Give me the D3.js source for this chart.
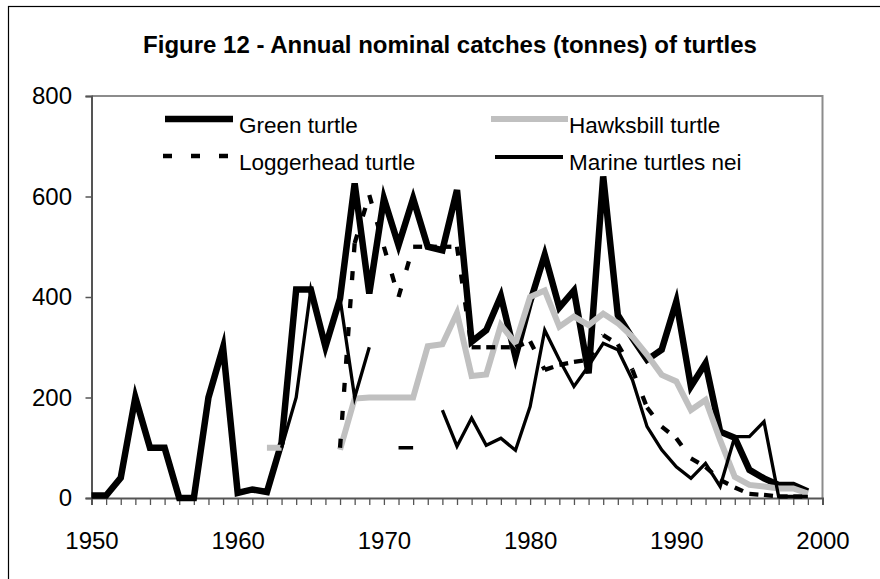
<!DOCTYPE html>
<html>
<head>
<meta charset="utf-8">
<script src="https://cdn.jsdelivr.net/npm/d3@7/dist/d3.min.js"></script>
<style>
  html, body { margin: 0; padding: 0; background: #fff; }
  svg { display: block; }
  text { font-family: "Liberation Sans", Arial, Helvetica, sans-serif; fill: #000; }
</style>
</head>
<body>
<svg id="chart" width="880" height="579"></svg>
<script>
// Annual nominal catches (tonnes), one value per year 1950-1999; null = no report
const years = d3.range(1950, 2000);

const greenTurtle = [
  5, 5, 40, 200, 100, 100, 0, 0, 200, 300,
  10, 17, 12, 110, 415, 415, 301, 397, 626, 407,
  596, 503, 596, 500, 493, 613, 311, 334, 402, 281,
  390, 484, 379, 413, 248, 640, 364, 318, 275, 295,
  391, 222, 268, 132, 120, 56, 39, 26, 26, 13
];

const hawksbillTurtle = [
  null, null, null, null, null, null, null, null, null, null,
  null, null, 100, 100, null, null, null, 96, 198, 200,
  200, 200, 200, 302, 306, 368, 243, 246, 344, 308,
  400, 413, 341, 361, 344, 367, 348, 321, 285, 245,
  232, 175, 195, 115, 42, 26, 23, 19, 19, 9
];

const loggerheadTurtle = [
  null, null, null, null, null, null, null, null, null, null,
  null, null, null, null, null, null, null, 100, 507, 603,
  500, 400, 500, 500, 500, 500, 300, 300, 300, 300,
  312, 255, 265, 271, 275, 324, 306, 255, 180, 142,
  119, 79, 62, 36, 21, 8, 6, 3, 3, 3
];

const marineTurtlesNei = [
  null, null, null, null, null, null, null, null, null, null,
  null, null, null, 100, 200, 415, 301, 397, 200, 300,
  null, 100, 100, null, 175, 103, 159, 105, 119, 95,
  182, 334, 275, 222, 263, 308, 295, 235, 142, 96,
  62, 39, 69, 23, 122, 122, 152, 3, 3, 3
];

const seriesNames = ["Green turtle", "Hawksbill turtle", "Loggerhead turtle", "Marine turtles nei"];
const yTicks = [0, 200, 400, 600, 800];
const xLabelYears = [1950, 1960, 1970, 1980, 1990, 2000];

const titleText = "Figure 12 - Annual nominal catches (tonnes) of turtles";

// line styles per series
const styles = {
  "Green turtle":       { stroke: "#000", width: 6.5, dash: null,   perSegment: false },
  "Hawksbill turtle":   { stroke: "#c0c0c0", width: 6, dash: null,  perSegment: false },
  "Loggerhead turtle":  { stroke: "#000", width: 4.3, dash: "9,19", perSegment: true },
  "Marine turtles nei": { stroke: "#000", width: 3.3, dash: null,   perSegment: false }
};

const valuesByName = {
  "Green turtle": greenTurtle,
  "Hawksbill turtle": hawksbillTurtle,
  "Loggerhead turtle": loggerheadTurtle,
  "Marine turtles nei": marineTurtlesNei
};

const svg = d3.select("#chart");

// outer figure frame (runs off the right and bottom edges)
svg.append("rect")
  .attr("x", 8.5).attr("y", 6.5)
  .attr("width", 950).attr("height", 650)
  .attr("fill", "none").attr("stroke", "#000").attr("stroke-width", 1.2);

// title
svg.append("text")
  .attr("x", 450).attr("y", 53)
  .attr("text-anchor", "middle")
  .style("font-size", "24px").style("font-weight", "bold")
  .text(titleText);

const x = d3.scaleLinear().domain([1950, 2000]).range([91.5, 822.5]);
const y = d3.scaleLinear().domain([0, 800]).range([498, 96]);

// plot area border (top and right)
svg.append("path")
  .attr("d", `M${x(1950)},${y(800)}H${x(2000)}V${y(0)}`)
  .attr("fill", "none").attr("stroke", "#8c8c8c").attr("stroke-width", 2);

// y axis
const yAxis = svg.append("g")
  .attr("transform", `translate(${x(1950)},0)`)
  .call(d3.axisLeft(y).tickValues(yTicks).tickSize(6).tickPadding(13.5).tickFormat(d3.format("d")));
yAxis.select(".domain").attr("stroke", "#555").attr("stroke-width", 2);
yAxis.selectAll(".tick line").attr("stroke", "#555").attr("stroke-width", 1.5);
yAxis.selectAll("text").style("font-size", "24px").attr("font-family", null);

// x axis: a tick each year, labels each decade
const xAxis = svg.append("g")
  .attr("transform", `translate(0,${y(0)})`)
  .call(d3.axisBottom(x)
    .tickValues(d3.range(1950, 2001))
    .tickSize(7).tickPadding(27)
    .tickFormat(d => xLabelYears.includes(d) ? String(d) : ""));
xAxis.select(".domain").attr("stroke", "#555").attr("stroke-width", 2);
xAxis.selectAll(".tick line").attr("stroke", "#555").attr("stroke-width", 1.3);
xAxis.selectAll("text").style("font-size", "24px").attr("font-family", null);

// series lines
const line = d3.line()
  .defined(d => d.v !== null)
  .x(d => x(d.year))
  .y(d => y(d.v));

const plot = svg.append("g");
seriesNames.forEach(name => {
  const st = styles[name];
  const pts = years.map((yr, i) => ({ year: yr, v: valuesByName[name][i] }));
  if (st.perSegment) {
    // dash pattern restarts at every vertex
    const segs = d3.pairs(pts).filter(([a, b]) => a.v !== null && b.v !== null);
    plot.selectAll(null).data(segs).join("path")
      .attr("d", line)
      .attr("fill", "none")
      .attr("stroke", st.stroke)
      .attr("stroke-width", st.width)
      .attr("stroke-dasharray", st.dash)
      .attr("stroke-linecap", "butt");
  } else {
    plot.append("path")
      .datum(pts)
      .attr("d", line)
      .attr("fill", "none")
      .attr("stroke", st.stroke)
      .attr("stroke-width", st.width)
      .attr("stroke-linejoin", "miter")
      .attr("stroke-miterlimit", 6)
      .attr("stroke-linecap", "butt");
  }
});

// legend, two columns
const legendItems = [
  { name: "Green turtle",       x1: 165, x2: 233, ly: 119, tx: 239, ty: 133 },
  { name: "Hawksbill turtle",   x1: 491, x2: 568, ly: 119, tx: 569, ty: 133 },
  { name: "Loggerhead turtle",  x1: 163, x2: 228, ly: 156, tx: 239, ty: 170 },
  { name: "Marine turtles nei", x1: 495, x2: 563, ly: 157, tx: 569, ty: 170 }
];
const legend = svg.append("g");
legendItems.forEach(it => {
  const st = styles[it.name];
  legend.append("line")
    .attr("x1", it.x1).attr("x2", it.x2)
    .attr("y1", it.ly).attr("y2", it.ly)
    .attr("stroke", st.stroke)
    .attr("stroke-width", it.name === "Marine turtles nei" ? 4 : st.width)
    .attr("stroke-dasharray", st.dash);
  legend.append("text")
    .attr("x", it.tx).attr("y", it.ty)
    .style("font-size", "22.5px")
    .text(it.name);
});
</script>
</body>
</html>
